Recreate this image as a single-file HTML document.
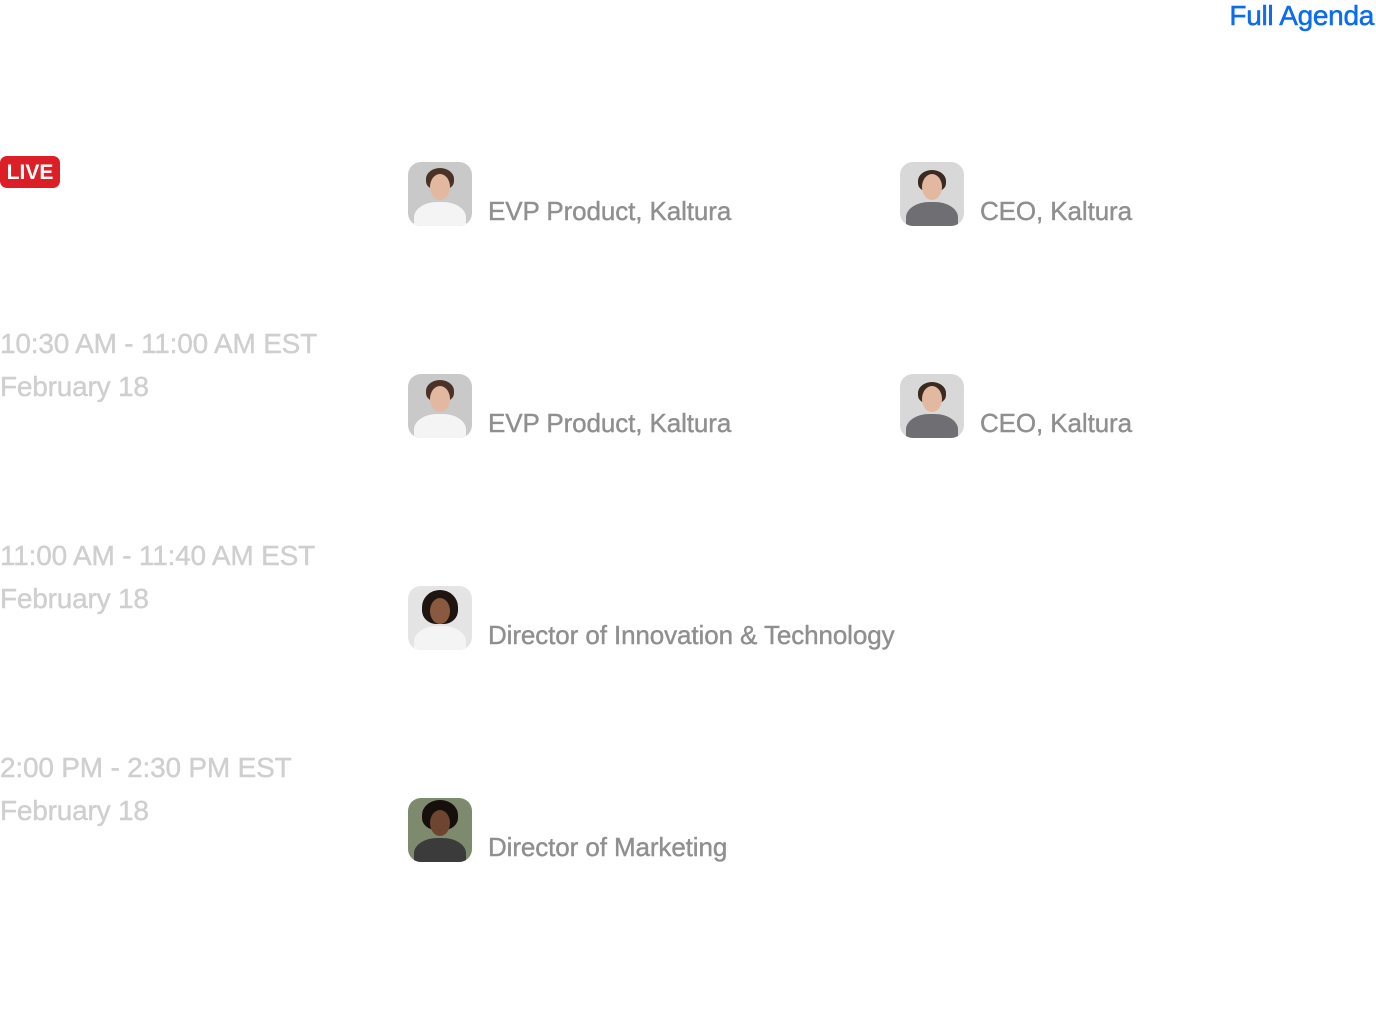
<!DOCTYPE html>
<html><head><meta charset="utf-8"><style>
body{margin:0;width:1376px;height:1020px;background:#fff;position:relative;overflow:hidden;font-family:"Liberation Sans",sans-serif}
.a{position:absolute}
.time{position:absolute;left:0;font-size:28px;color:#cfcfcf;letter-spacing:-0.2px;white-space:nowrap;line-height:30px;-webkit-text-stroke:0.4px #cfcfcf}
.role{position:absolute;font-size:26px;color:#8f8f8f;letter-spacing:-0.1px;white-space:nowrap;line-height:30px;-webkit-text-stroke:0.4px #8f8f8f}
.av{position:absolute;width:64px;height:64px;border-radius:13px;overflow:hidden;background:#c9c9c9}
.av .face{position:absolute;left:22px;top:12px;width:20px;height:26px;border-radius:50%;background:#e2b9a0}
.av .hair{position:absolute;left:18px;top:6px;width:28px;height:22px;border-radius:50% 50% 40% 40%;background:#4a3326}
.av .body{position:absolute;left:6px;top:40px;width:52px;height:34px;border-radius:45% 45% 0 0;background:#f4f4f4}
</style></head><body>
<div class="a" style="right:2px;top:0;font-size:28px;color:#0a6cf0;letter-spacing:-0.3px;line-height:32px;-webkit-text-stroke:0.5px #0a6cf0">Full Agenda</div>

<div class="a" style="left:0;top:156px;width:60px;height:32px;background:#dc1f26;border-radius:7px;color:#fff;font-size:21px;font-weight:bold;line-height:33px;text-align:center">LIVE</div>

<div class="av" style="left:408px;top:162px"><div class="hair"></div><div class="face"></div><div class="body"></div></div>
<div class="role" style="left:488px;top:196px">EVP Product, Kaltura</div>
<div class="av" style="left:900px;top:162px;background:#d8d8d8"><div class="hair" style="background:#3a2a20;top:8px"></div><div class="face"></div><div class="body" style="background:#6f6f73"></div></div>
<div class="role" style="left:980px;top:196px">CEO, Kaltura</div>

<div class="time" style="top:329px">10:30 AM - 11:00 AM EST</div>
<div class="time" style="top:372px">February 18</div>
<div class="av" style="left:408px;top:374px"><div class="hair"></div><div class="face"></div><div class="body"></div></div>
<div class="role" style="left:488px;top:408px">EVP Product, Kaltura</div>
<div class="av" style="left:900px;top:374px;background:#d8d8d8"><div class="hair" style="background:#3a2a20;top:8px"></div><div class="face"></div><div class="body" style="background:#6f6f73"></div></div>
<div class="role" style="left:980px;top:408px">CEO, Kaltura</div>

<div class="time" style="top:541px">11:00 AM - 11:40 AM EST</div>
<div class="time" style="top:584px">February 18</div>
<div class="av" style="left:408px;top:586px;background:#e4e4e4"><div class="hair" style="background:#1e1410;left:14px;width:36px;height:34px;top:4px"></div><div class="face" style="background:#8a5a40"></div><div class="body"></div></div>
<div class="role" style="left:488px;top:620px">Director of Innovation &amp; Technology</div>

<div class="time" style="top:753px">2:00 PM - 2:30 PM EST</div>
<div class="time" style="top:796px">February 18</div>
<div class="av" style="left:408px;top:798px;background:#7d8a6e"><div class="hair" style="background:#15100c;left:14px;width:36px;height:30px;top:2px"></div><div class="face" style="background:#6e4530"></div><div class="body" style="background:#3b3b3b"></div></div>
<div class="role" style="left:488px;top:832px">Director of Marketing</div>
</body></html>
